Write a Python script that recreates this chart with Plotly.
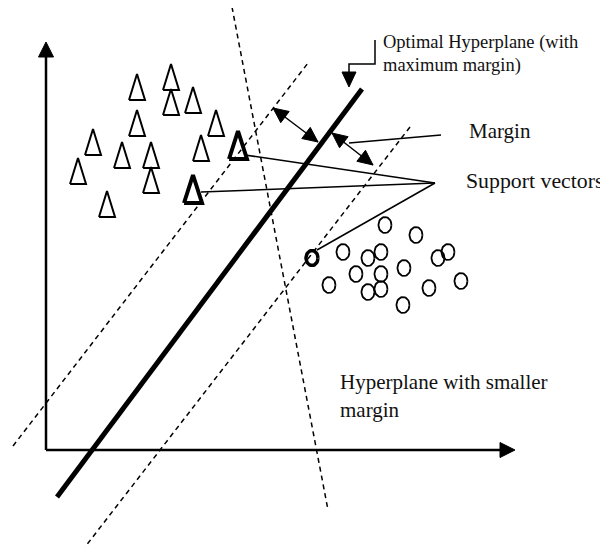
import numpy as np
import plotly.graph_objects as go

# ---- data (diagram units: origin at the axes corner, y up) ----
tri_x = [91, 125, 125, 147, 91, 170, 47, 76, 105, 155, 32, 105, 61]
tri_y = [363, 373, 348, 350, 327, 327, 308, 295, 295, 302, 279, 270, 246]
sv_tri_x = [192, 147]
sv_tri_y = [305, 261]

circ_x = [339, 370, 297, 322, 335, 392, 402, 358, 310, 335, 283, 322, 335, 383, 415, 357]
circ_y = [225, 215, 198, 192, 198, 192, 198, 182, 176, 176, 165, 158, 161, 162, 169, 145]
sv_circ_x = [266]
sv_circ_y = [192]

optimal_x = [316, 11]
optimal_y = [361, -47]
margin_up_x = [-33, 262]
margin_up_y = [4, 387]
margin_lo_x = [364, 39]
margin_lo_y = [323, -97]
small_x = [186, 282]
small_y = [443, -60]

axis_x_end = 469
axis_y_end = 408

hub = (389, 267)
sv_line_starts = [(199, 295), (155, 258), (271, 200)]
margin_ptr = [(303, 307), (395, 315)]
dbl_arrows = [((227, 342), (272, 308)), ((286, 317), (327, 285))]
bracket_x = [329, 329, 303, 303]
bracket_y = [410, 386, 386, 363]

FONT = "Liberation Serif, Times New Roman, serif"

fig = go.Figure()


def add_line(xs, ys, width=1.5, dash=None):
    fig.add_trace(go.Scatter(x=xs, y=ys, mode="lines",
                             line=dict(color="black", width=width, dash=dash),
                             hoverinfo="skip", showlegend=False))


def head(tip, frm, L=15, W=7):
    tx, ty = tip
    fx, fy = frm
    d = np.hypot(tx - fx, ty - fy)
    ux, uy = (tx - fx) / d, (ty - fy) / d
    bx, by = tx - L * ux, ty - L * uy
    px, py = -uy, ux
    xs = [tx, bx + W * px, bx - W * px, tx]
    ys = [ty, by + W * py, by - W * py, ty]
    fig.add_trace(go.Scatter(x=xs, y=ys, mode="lines", fill="toself",
                             fillcolor="black", line=dict(color="black", width=1),
                             hoverinfo="skip", showlegend=False))


def triangles(cx, cy, w, h, width):
    xs, ys = [], []
    for x, y in zip(cx, cy):
        xs += [x - w, x, x + w, x - w, None]
        ys += [y - h, y + h, y - h, y - h, None]
    fig.add_trace(go.Scatter(x=xs, y=ys, mode="lines",
                             line=dict(color="black", width=width),
                             hoverinfo="skip", showlegend=False))


def ellipses(cx, cy, rx, ry, width):
    t = np.linspace(0, 2 * np.pi, 40)
    xs, ys = [], []
    for x, y in zip(cx, cy):
        xs += list(x + rx * np.cos(t)) + [None]
        ys += list(y + ry * np.sin(t)) + [None]
    fig.add_trace(go.Scatter(x=xs, y=ys, mode="lines",
                             line=dict(color="black", width=width),
                             hoverinfo="skip", showlegend=False))


# axes with arrows
add_line([0, 0], [0, axis_y_end - 12], width=2.5)
head((0, axis_y_end), (0, 0), L=15, W=7.5)
add_line([0, axis_x_end - 12], [0, 0], width=2.5)
head((axis_x_end, 0), (0, 0), L=15, W=7.5)

# hyperplanes
add_line(small_x, small_y, width=1.5, dash="5px,4px")
add_line(margin_up_x, margin_up_y, width=1.5, dash="5px,4px")
add_line(margin_lo_x, margin_lo_y, width=1.5, dash="5px,4px")
add_line(optimal_x, optimal_y, width=5)

# support vector pointers
for sx, sy in sv_line_starts:
    add_line([sx, hub[0]], [sy, hub[1]], width=1.5)
add_line([p[0] for p in margin_ptr], [p[1] for p in margin_ptr], width=1.5)

# margin double arrows
for a, b in dbl_arrows:
    add_line([a[0], b[0]], [a[1], b[1]], width=1.5)
    head(a, b, L=15, W=7)
    head(b, a, L=15, W=7)

# bracket arrow to optimal hyperplane
add_line(bracket_x[:-1] + [bracket_x[-1]], bracket_y[:-1] + [bracket_y[-1] + 10], width=1.5)
head((bracket_x[-1], bracket_y[-1]), (bracket_x[-2], bracket_y[-2]), L=15, W=7)

# points
triangles(tri_x, tri_y, 8, 13, 2)
triangles(sv_tri_x, sv_tri_y, 9, 14, 4)
ellipses(circ_x, circ_y, 6.5, 8, 1.8)
ellipses(sv_circ_x, sv_circ_y, 6, 7.5, 3.5)

# texts
texts = [
    ("Optimal Hyperplane (with", 335, 408, 18.5),
    ("maximum margin)", 335, 385, 18.5),
    ("Margin", 421, 319, 21),
    ("Support vectors", 418, 269, 21.8),
    ("Hyperplane with smaller", 292, 68, 21),
    ("margin", 292, 40, 21),
]
for s, x, y, fs in texts:
    fig.add_annotation(x=x, y=y, text=s, showarrow=False, xanchor="left",
                       yanchor="middle", font=dict(family=FONT, size=fs, color="#111"))

# page body has an 8px default margin, so the figure is 600x541 placed at (8,8)
fig.update_layout(
    width=600, height=541, margin=dict(l=0, r=0, t=0, b=0),
    plot_bgcolor="white", paper_bgcolor="white",
    xaxis=dict(range=[-38, 562], visible=False, fixedrange=True),
    yaxis=dict(range=[-99, 442], visible=False, fixedrange=True),
    showlegend=False,
)
fig.write_html("out.html")
